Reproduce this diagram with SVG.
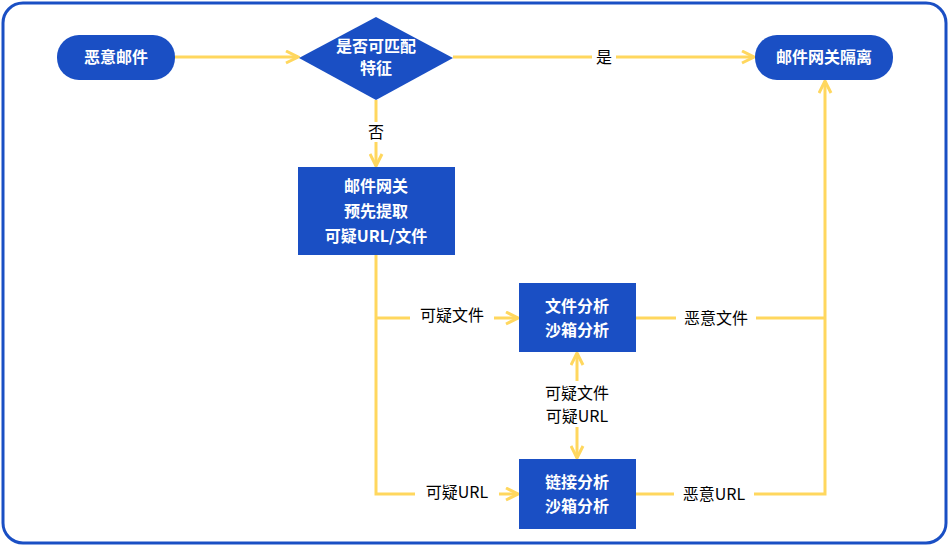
<svg xmlns="http://www.w3.org/2000/svg" width="950" height="546" viewBox="0 0 950 546">
<style>
.n{fill:#1a4fc4}
.t{font-family:"Noto Sans CJK SC","Noto Sans",sans-serif;font-size:16px;font-weight:bold;fill:#fff;text-anchor:middle}
.l{font-family:"Noto Sans CJK SC","Noto Sans",sans-serif;font-size:16px;fill:#000;text-anchor:middle}
.c{stroke:#ffd75e;stroke-width:3;fill:none}
</style>
<defs><marker id="a" viewBox="0 0 10 10" refX="9" refY="5" markerWidth="5" markerHeight="5" orient="auto-start-reverse"><path d="M1,1 L9,5 L1,9" fill="none" stroke="#ffd75e" stroke-width="2"/></marker></defs>
<rect x="3" y="3" width="943" height="540" rx="20" fill="#fff" stroke="#1a4fc4" stroke-width="3"/>
<g id="connectors">
<path class="c" d="M175,57 H298" marker-end="url(#a)"/>
<path class="c" d="M453,57 H754" marker-end="url(#a)"/>
<path class="c" d="M376,100 V166" marker-end="url(#a)"/>
<path class="c" d="M376,255 V494 H518" marker-end="url(#a)"/>
<path class="c" d="M376,318 H518" marker-end="url(#a)"/>
<path class="c" d="M636,318 H825"/>
<path class="c" d="M636,494 H825 V81" marker-end="url(#a)"/>
<path class="c" d="M577,353 V458" marker-start="url(#a)" marker-end="url(#a)"/>
<rect x="592" y="47" width="24" height="20" fill="#fff"/><text class="l" x="604" y="63">是</text>
<rect x="364" y="122" width="24" height="20" fill="#fff"/><text class="l" x="376" y="138">否</text>
<rect x="410" y="305" width="84" height="22" fill="#fff"/><text class="l" x="452" y="321">可疑文件</text>
<rect x="415" y="482" width="84" height="22" fill="#fff"/><text class="l" x="457" y="498">可疑URL</text>
<rect x="676" y="308" width="80" height="22" fill="#fff"/><text class="l" x="716" y="324">恶意文件</text>
<rect x="674" y="484" width="80" height="22" fill="#fff"/><text class="l" x="714" y="500">恶意URL</text>
<rect x="537" y="381" width="80" height="46" fill="#fff"/><text class="l" x="577" y="399">可疑文件</text><text class="l" x="577" y="422">可疑URL</text>
</g>
<g id="n1"><rect class="n" x="57" y="35" width="118" height="45" rx="22"/><text class="t" x="116" y="63">恶意邮件</text></g>
<g id="n2"><polygon class="n" points="299,58 376,17 453,58 376,100"/><text class="t" x="376" y="52">是否可匹配</text><text class="t" x="376" y="74">特征</text></g>
<g id="n3"><rect class="n" x="755" y="35" width="138" height="45" rx="22"/><text class="t" x="824" y="63">邮件网关隔离</text></g>
<g id="n4"><rect class="n" x="298" y="167" width="157" height="88"/><text class="t" x="376" y="192">邮件网关</text><text class="t" x="376" y="217">预先提取</text><text class="t" x="376" y="242">可疑URL/文件</text></g>
<g id="n5"><rect class="n" x="519" y="283" width="117" height="69"/><text class="t" x="577" y="312">文件分析</text><text class="t" x="577" y="336">沙箱分析</text></g>
<g id="n6"><rect class="n" x="519" y="459" width="117" height="70"/><text class="t" x="577" y="488">链接分析</text><text class="t" x="577" y="512">沙箱分析</text></g>
</svg>
